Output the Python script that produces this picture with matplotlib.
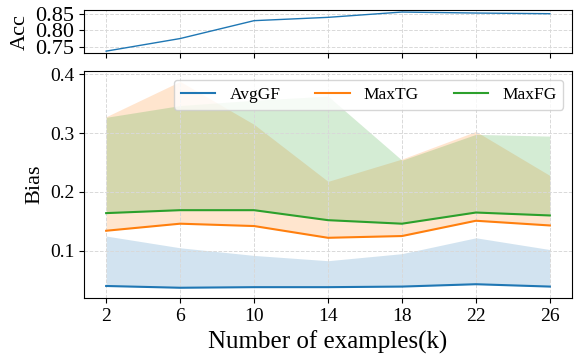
import matplotlib
matplotlib.use("Agg")
import matplotlib.pyplot as plt
import numpy as np

plt.rcParams["font.family"] = ["Liberation Serif", "DejaVu Serif"]
plt.rcParams["mathtext.fontset"] = "stix"

examples = [2, 6, 10, 14, 18, 22, 26]
acc = [0.737, 0.775, 0.829, 0.839, 0.855, 0.852, 0.850]

avg_gf = [0.040, 0.037, 0.038, 0.038, 0.039, 0.043, 0.039]
avg_gf_hi = [0.125, 0.105, 0.092, 0.083, 0.095, 0.122, 0.102]
max_tg = [0.134, 0.146, 0.142, 0.122, 0.125, 0.151, 0.143]
max_tg_hi = [0.328, 0.388, 0.315, 0.218, 0.256, 0.303, 0.228]
max_fg = [0.164, 0.169, 0.169, 0.152, 0.146, 0.165, 0.160]
max_fg_hi = [0.327, 0.347, 0.356, 0.363, 0.254, 0.298, 0.295]

fig = plt.figure(figsize=(5.79, 3.54), dpi=100)
ax_top = fig.add_axes([0.145, 0.850, 0.843, 0.1215])
ax = fig.add_axes([0.145, 0.158, 0.843, 0.641])

grid_kw = dict(color="#d9d9d9", linestyle="--", linewidth=0.7)

ax_top.plot(examples, acc, color="C0", linewidth=1.0)
ax_top.set_yticks([0.75, 0.80, 0.85])
ax_top.set_xticks(examples)
ax_top.set_xticklabels([])
ax_top.set_ylabel("Acc", fontsize=16)
ax_top.tick_params(labelsize=16)
ax_top.grid(True, **grid_kw)

series = [
    ("AvgGF", avg_gf, avg_gf_hi, "C0"),
    ("MaxTG", max_tg, max_tg_hi, "C1"),
    ("MaxFG", max_fg, max_fg_hi, "C2"),
]
for name, lo, hi, c in series:
    ax.plot(examples, lo, color=c, linewidth=1.5, label=name)
    ax.fill_between(examples, lo, hi, color=c, alpha=0.2, linewidth=0)

ax.set_xticks(examples)
ax.set_yticks([0.1, 0.2, 0.3, 0.4])
ax.tick_params(labelsize=14)
ax.set_xlabel("Number of examples(k)", fontsize=18)
ax.set_ylabel("Bias", fontsize=16)
ax.grid(True, **grid_kw)
ax.legend(loc="upper right", ncol=3, fontsize=12.5)

fig.align_ylabels([ax_top, ax])
fig.savefig("out.png", dpi=100)
